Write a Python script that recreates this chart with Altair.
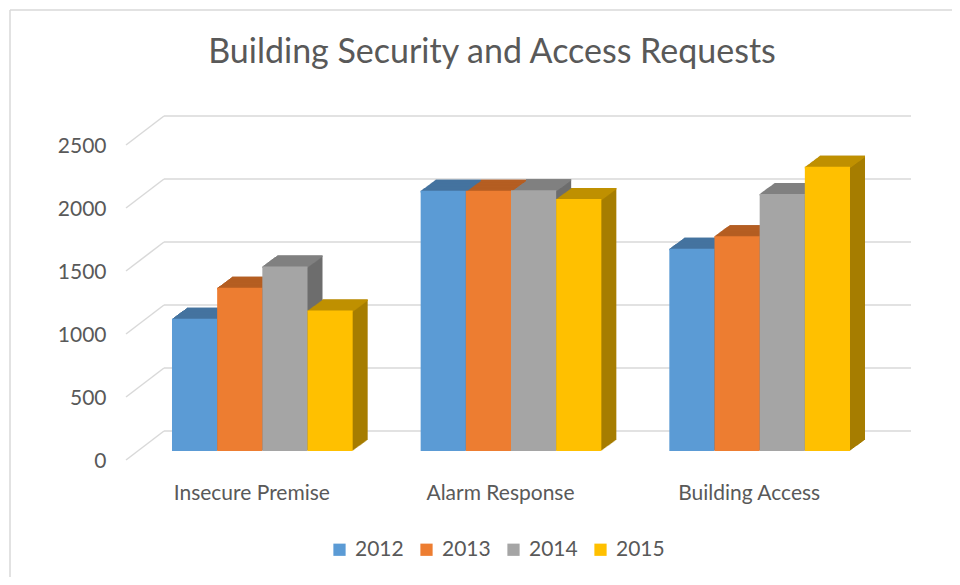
import altair as alt
import pandas as pd

# ---- data ----
categories = ["Insecure Premise", "Alarm Response", "Building Access"]
years = ["2012", "2013", "2014", "2015"]
values_2012 = [1050, 2065, 1605]
values_2013 = [1295, 2065, 1705]
values_2014 = [1465, 2070, 2040]
values_2015 = [1115, 2000, 2255]
y_ticks = [0, 500, 1000, 1500, 2000, 2500]

# ---- styling ----
front_colors = ["#5B9BD5", "#ED7D31", "#A5A5A5", "#FFC000"]
top_colors = ["#44739F", "#B55E22", "#808080", "#BF9000"]
side_colors = ["#3A6690", "#A0521C", "#6D6D6D", "#A67D00"]
FONT = "Lato"
TEXT = "#595959"
GRID = "#D9D9D9"

W, H = 746, 315
PAD_IN, PAD_OUT = 0.2734, 0.1367
BAND = W / 3 * (1 - PAD_IN)
DX, DY = 15, 11          # oblique depth of the bars
STEPS = 15
BACK_DY, FRONT_DY = -20, 9
WALL_X0, WALL_X1, FLOOR_X0 = 26, 773, -12

rows = []
for yr, vals in zip(years, [values_2012, values_2013, values_2014, values_2015]):
    for c, v in zip(categories, vals):
        rows.append({"category": c, "year": yr, "value": v})
df = pd.DataFrame(rows)
grid_df = pd.DataFrame({"value": y_ticks})

y_scale = alt.Scale(domain=[0, 2500], nice=False, zero=True)
y_axis = alt.Axis(title=None, values=y_ticks, grid=False, domain=False, ticks=False,
                  format="d", labelFont=FONT, labelFontSize=21, labelColor=TEXT,
                  labelPadding=32, labelOffset=10)
x_enc = alt.X("category:N", sort=categories,
              scale=alt.Scale(domain=categories, paddingInner=PAD_IN, paddingOuter=PAD_OUT),
              axis=alt.Axis(title=None, domain=False, ticks=False, labelAngle=0,
                            labelFont=FONT, labelFontSize=21, labelColor=TEXT,
                            labelPadding=31, labelOffset=-10.5, labelBaseline="top"))


def xoff(shift):
    return alt.XOffset("year:N", sort=years,
                       scale=alt.Scale(domain=years, range=[shift, BAND + shift],
                                       paddingInner=0, paddingOuter=0))


layers = []

# back wall gridlines and floor diagonals
layers.append(
    alt.Chart(grid_df).mark_rule(color=GRID, strokeWidth=1.5, yOffset=BACK_DY).encode(
        y=alt.Y("value:Q", scale=y_scale, axis=y_axis),
        x=alt.value(WALL_X0), x2=alt.value(WALL_X1))
)
layers.append(
    alt.Chart(grid_df).mark_rule(color=GRID, strokeWidth=1.5, yOffset=FRONT_DY,
                                 y2Offset=BACK_DY).encode(
        y=alt.Y("value:Q", scale=y_scale, axis=y_axis), y2=alt.Y2("value"),
        x=alt.value(FLOOR_X0), x2=alt.value(WALL_X0))
)

# side (depth) faces: stacked shifted copies
for k in range(1, STEPS + 1):
    off = -k * DY / STEPS
    layers.append(
        alt.Chart(df).mark_bar(yOffset=off, y2Offset=off).encode(
            x=x_enc, xOffset=xoff(k * DX / STEPS),
            y=alt.Y("value:Q", scale=y_scale, axis=y_axis), y2=alt.datum(0),
            color=alt.Color("year:N", scale=alt.Scale(domain=years, range=side_colors),
                            legend=None))
    )

# top faces: thin shifted strips
for k in range(0, STEPS + 1):
    off = -k * DY / STEPS
    layers.append(
        alt.Chart(df).mark_bar(yOffset=off, y2Offset=off + 1.6).encode(
            x=x_enc, xOffset=xoff(k * DX / STEPS),
            y=alt.Y("value:Q", scale=y_scale, axis=y_axis), y2=alt.Y2("value"),
            color=alt.Color("year:N", scale=alt.Scale(domain=years, range=top_colors),
                            legend=None))
    )

# front faces
layers.append(
    alt.Chart(df).mark_bar().encode(
        x=x_enc, xOffset=xoff(0),
        y=alt.Y("value:Q", scale=y_scale, axis=y_axis),
        color=alt.Color("year:N", sort=years,
                        scale=alt.Scale(domain=years, range=front_colors),
                        legend=alt.Legend(title=None, orient="none", direction="horizontal",
                                          legendX=191, legendY=403,
                                          symbolType="square", symbolSize=150,
                                          symbolStrokeWidth=0, labelFont=FONT,
                                          labelFontSize=21, labelColor=TEXT,
                                          labelOffset=5, columnPadding=12)))
)

# chart frame (top and left edges)
frame = alt.Data(values=[{}])
layers.append(alt.Chart(frame).mark_rule(color=GRID, strokeWidth=1.5).encode(
    x=alt.value(-128), x2=alt.value(830), y=alt.value(-126)))
layers.append(alt.Chart(frame).mark_rule(color=GRID, strokeWidth=1.5).encode(
    x=alt.value(-128), y=alt.value(-126), y2=alt.value(460)))

chart = alt.layer(*layers).resolve_scale(
    color="independent", xOffset="independent"
).properties(
    width=W, height=H,
    padding={"left": 130, "top": 128, "right": 68, "bottom": 126},
    autosize=alt.AutoSizeParams(type="none"),
    title=alt.TitleParams("Building Security and Access Requests", font=FONT,
                          fontSize=34, fontWeight="normal", color=TEXT,
                          anchor="middle", baseline="alphabetic", dx=-19, dy=92),
    background="white",
).configure_view(stroke=None)

chart.save("out.html", embed_options={"renderer": "svg", "actions": False})
